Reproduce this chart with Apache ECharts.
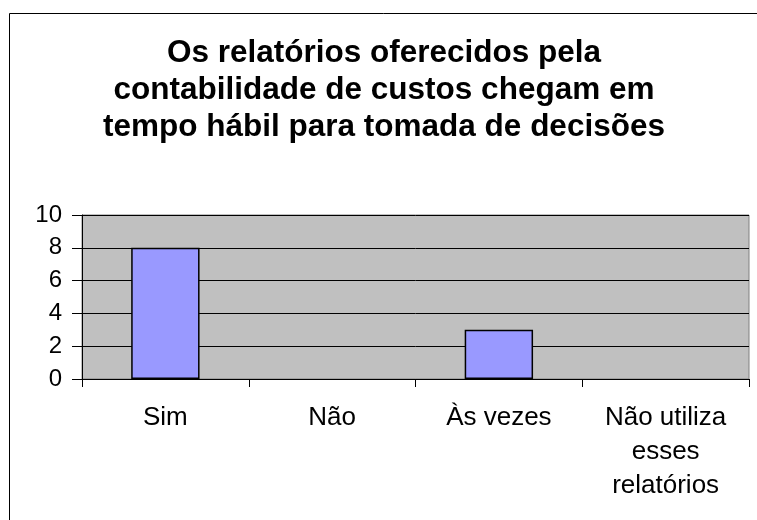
<!DOCTYPE html>
<html>
<head>
<meta charset="utf-8">
<script src="https://cdn.jsdelivr.net/npm/echarts@6/dist/echarts.min.js"></script>
<style>
    html, body { margin: 0; padding: 0; background: #fff; }
    #main { width: 757px; height: 520px; }
</style>
</head>
<body>
<div id="main"></div>
<script>
    // dados do gráfico
    let categorias = ['Sim', 'Não', 'Às vezes', 'Não utiliza\nesses\nrelatórios'];
    let valores = [8, 0, 3, 0];
    let titulo = 'Os relatórios oferecidos pela\ncontabilidade de custos chegam em\ntempo hábil para tomada de decisões';

    var chartDom = document.getElementById('main');
    var myChart = echarts.init(chartDom);

    // barras com valor 0 não desenham borda
    let dadosBarras = valores.map(function (v) {
        return v === 0 ? { value: v, itemStyle: { borderWidth: 0 } } : v;
    });

    let option = {
        animation: false,
        backgroundColor: '#fff',
        textStyle: {
            fontFamily: 'Liberation Sans, Arial, sans-serif'
        },
        graphic: [{
            type: 'rect',
            left: 7,
            top: 11,
            shape: { width: 800, height: 600 },
            style: { fill: 'none', stroke: '#000', lineWidth: 1 },
            silent: true
        }],
        title: {
            text: titulo,
            left: 384,
            textAlign: 'center',
            top: 35,
            padding: 0,
            textStyle: {
                fontFamily: 'Liberation Sans, Arial, sans-serif',
                fontSize: 31.5,
                fontWeight: 'bold',
                lineHeight: 37,
                color: '#000'
            }
        },
        grid: {
            left: 82,
            right: 8,
            top: 215,
            bottom: 141,
            show: true,
            backgroundColor: '#C0C0C0',
            borderColor: '#808080',
            borderWidth: 1
        },
        xAxis: {
            type: 'category',
            data: categorias,
            axisLine: { lineStyle: { color: '#000', width: 1 } },
            axisTick: { show: true, length: 8, lineStyle: { color: '#000' } },
            axisLabel: {
                interval: 0,
                margin: 22,
                fontSize: 26,
                lineHeight: 34,
                color: '#000',
                align: 'center'
            }
        },
        yAxis: {
            type: 'value',
            min: 0,
            max: 10,
            interval: 2,
            axisLine: { show: true, lineStyle: { color: '#000', width: 1 } },
            axisTick: { show: true, length: 10, lineStyle: { color: '#000' } },
            axisLabel: { margin: 20, fontSize: 24, color: '#000' },
            splitLine: { show: true, lineStyle: { color: '#000', width: 1 } }
        },
        series: [{
            type: 'bar',
            data: dadosBarras,
            barWidth: '41%',
            itemStyle: {
                color: '#9999FF',
                borderColor: '#000',
                borderWidth: 1.5
            }
        }]
    };

    option && myChart.setOption(option);
</script>
</body>
</html>
